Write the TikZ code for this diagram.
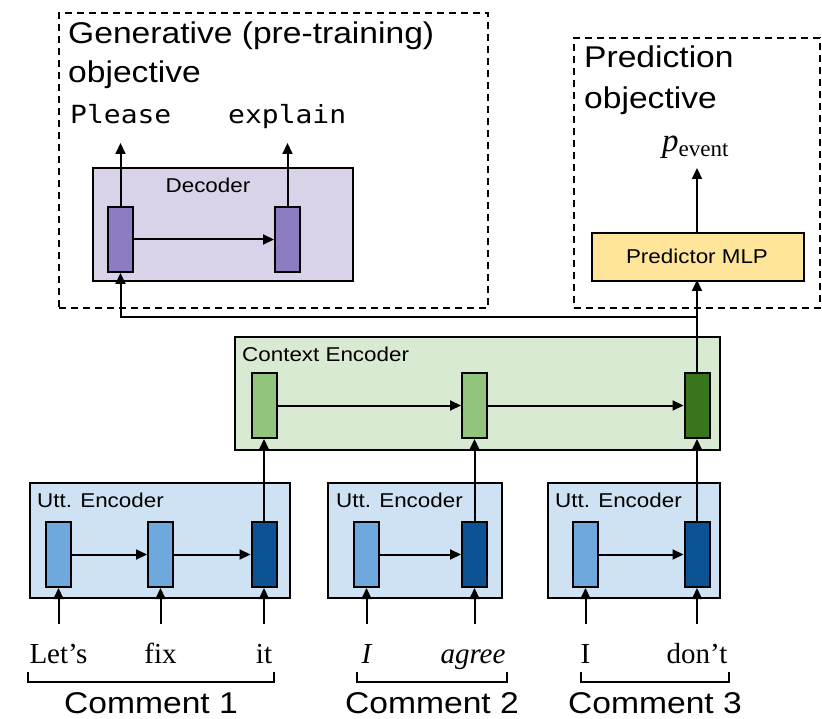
\documentclass[tikz,border=0pt]{standalone}
\usepackage{fontspec}
\setsansfont{Liberation Sans}[FakeStretch=1.12]
\setmonofont{DejaVu Sans Mono}[FakeStretch=1.12]
\newfontfamily\wordserif{Liberation Serif}
\usetikzlibrary{arrows.meta}
\definecolor{decfill}{HTML}{D9D2E9}
\definecolor{deccell}{HTML}{8E7CC3}
\definecolor{predfill}{HTML}{FFE599}
\definecolor{ctxfill}{HTML}{D9EAD3}
\definecolor{ctxcell}{HTML}{93C47D}
\definecolor{ctxdark}{HTML}{38761D}
\definecolor{uttfill}{HTML}{CFE2F3}
\definecolor{uttcell}{HTML}{6FA8DC}
\definecolor{uttdark}{HTML}{0B5394}
\newcommand\bigsf{\sffamily\fontsize{30}{36}\selectfont}
\newcommand\smallsf{\sffamily\fontsize{20}{24}\selectfont}
\newcommand\wordfont{\wordserif\fontsize{29}{34}\selectfont}
\tikzset{
  box/.style={draw, line width=2pt, inner sep=0pt, anchor=north west},
  dashbox/.style={draw, line width=1.7pt, dash pattern=on 7pt off 5pt, inner sep=0pt, anchor=north west},
  cellbox/.style={draw, line width=2pt, inner sep=0pt, minimum width=25pt, minimum height=65pt},
  arr/.style={line width=2pt, -{Triangle[length=11pt,width=10pt]}},
  plain/.style={line width=2pt},
  lbl/.style={inner sep=0pt, anchor=base west},
  word/.style={inner sep=0pt, anchor=base, font=\wordfont},
}
\begin{document}
\begin{tikzpicture}[x=1pt,y=-1pt]
\useasboundingbox (0,0) rectangle (822,719);

% generative objective
\node[dashbox, minimum width=429pt, minimum height=295pt] (genbox) at (58,12) {};
\node[lbl, font=\bigsf] (gent1) at (68,44) {Generative (pre-training)};
\node[lbl, font=\bigsf] (gent2) at (68,83) {objective};
\node[lbl, font=\ttfamily\fontsize{25}{30}\selectfont] (please) at (70,124) {Please};
\node[lbl, font=\ttfamily\fontsize{25}{30}\selectfont] (explain) at (228,124) {explain};
\node[box, fill=decfill, minimum width=260pt, minimum height=113pt] (dec) at (92,167) {};
\node[inner sep=0pt, anchor=base, font=\smallsf] (declbl) at (208,193) {Decoder};
\node[cellbox, fill=deccell] (d1) at (120.5,239.5) {};
\node[cellbox, fill=deccell] (d2) at (287.5,239.5) {};
\coordinate (pl) at (120.5,143);
\coordinate (ex) at (287.5,143);
\draw[arr] (d1.north) -- (pl);
\draw[arr] (d2.north) -- (ex);
\draw[arr] (d1.east) -- (d2.west);

% prediction objective
\node[dashbox, minimum width=246pt, minimum height=270pt] (predbox) at (573,37) {};
\node[lbl, font=\bigsf] (pt1) at (584,68) {Prediction};
\node[lbl, font=\bigsf] (pt2) at (584,109) {objective};
\node[inner sep=0pt, anchor=base west] (pev) at (662,152) {\wordserif{\fontsize{33}{38}\selectfont\itshape p}\raisebox{-5pt}{\fontsize{23}{26}\selectfont event}};
\node[box, fill=predfill, minimum width=212pt, minimum height=48pt] (mlp) at (591,232) {};
\node[font=\smallsf, inner sep=0pt] (mlplbl) at (697,256) {Predictor MLP};
\coordinate (pevb) at (697,168);
\draw[arr] (697,232) -- (pevb);

% context encoder
\node[box, fill=ctxfill, minimum width=485pt, minimum height=113pt] (ctx) at (234,336) {};
\node[lbl, font=\smallsf] (ctxlbl) at (242,361) {Context Encoder};
\node[cellbox, fill=ctxcell] (c1) at (264,405.5) {};
\node[cellbox, fill=ctxcell] (c2) at (474.5,405.5) {};
\node[cellbox, fill=ctxdark] (c3) at (697,405.5) {};
\draw[arr] (c1.east) -- (c2.west);
\draw[arr] (c2.east) -- (c3.west);
\coordinate (split) at (697,317);
\draw[arr] (c3.north) -- (697,280);
\draw[arr] (split) -| (d1.south);

% utterance encoders
\node[box, fill=uttfill, minimum width=260pt, minimum height=115pt] (utt1) at (29,482) {};
\node[lbl, font=\smallsf] (u1lbl) at (37,507) {Utt. Encoder};
\node[cellbox, fill=uttcell] (u1a) at (58.5,554.5) {};
\node[cellbox, fill=uttcell] (u1b) at (160.5,554.5) {};
\node[cellbox, fill=uttdark] (u1c) at (264,554.5) {};
\draw[arr] (u1a.east) -- (u1b.west);
\draw[arr] (u1b.east) -- (u1c.west);

\node[box, fill=uttfill, minimum width=174pt, minimum height=115pt] (utt2) at (327,482) {};
\node[lbl, font=\smallsf] (u2lbl) at (336,507) {Utt. Encoder};
\node[cellbox, fill=uttcell] (u2a) at (366.5,554.5) {};
\node[cellbox, fill=uttdark] (u2b) at (474.5,554.5) {};
\draw[arr] (u2a.east) -- (u2b.west);

\node[box, fill=uttfill, minimum width=172pt, minimum height=115pt] (utt3) at (547,482) {};
\node[lbl, font=\smallsf] (u3lbl) at (555,507) {Utt. Encoder};
\node[cellbox, fill=uttcell] (u3a) at (585.5,554.5) {};
\node[cellbox, fill=uttdark] (u3b) at (697,554.5) {};
\draw[arr] (u3a.east) -- (u3b.west);

\draw[arr] (u1c.north) -- (c1.south);
\draw[arr] (u2b.north) -- (c2.south);
\draw[arr] (u3b.north) -- (c3.south);

% words
\node[word] (w1) at (58.5,663) {Let’s};
\node[word] (w2) at (160.5,663) {fix};
\node[word] (w3) at (264,663) {it};
\node[word] (w4) at (366.5,663) {\itshape I};
\node[word] (w5) at (473,663) {\itshape agree};
\node[word] (w6) at (585.5,663) {I};
\node[word] (w7) at (697,663) {don’t};
\foreach \c/\x in {u1a/58.5,u1b/160.5,u1c/264,u2a/366.5,u2b/474.5,u3a/585.5,u3b/697}{
  \coordinate (in-\c) at (\x,624);
  \draw[arr] (in-\c) -- (\c.south);
}

% brackets
\draw[plain] (28,672) -- (28,682) -- (274,682) -- (274,672);
\draw[plain] (357,672) -- (357,682) -- (507,682) -- (507,672);
\draw[plain] (581,672) -- (581,682) -- (729,682) -- (729,672);
\node[inner sep=0pt, anchor=base, font=\bigsf] (cm1) at (151,713) {Comment 1};
\node[inner sep=0pt, anchor=base, font=\bigsf] (cm2) at (432,713) {Comment 2};
\node[inner sep=0pt, anchor=base, font=\bigsf] (cm3) at (655,713) {Comment 3};
\end{tikzpicture}
\end{document}
